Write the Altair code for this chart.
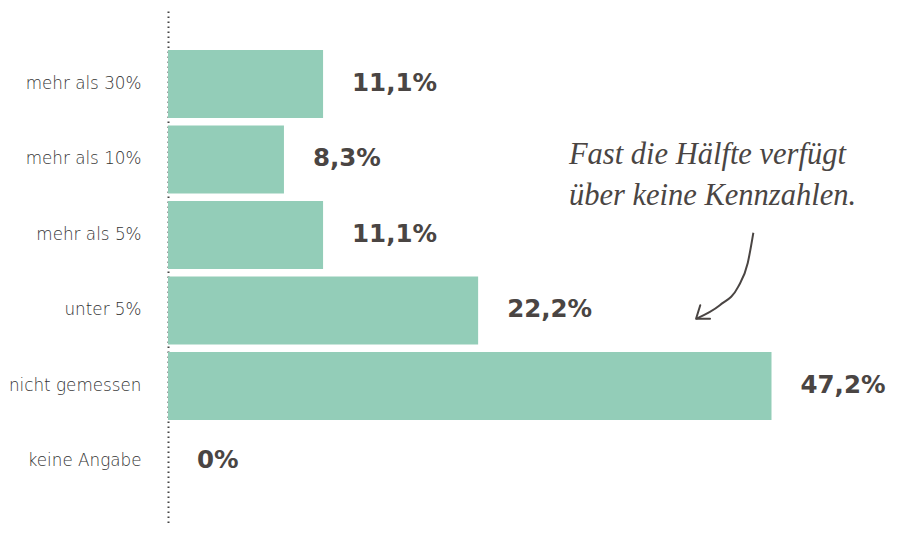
import altair as alt
import pandas as pd

# Categories (top to bottom) and values as printed
categories = ["mehr als 30%", "mehr als 10%", "mehr als 5%", "unter 5%", "nicht gemessen", "keine Angabe"]
value_labels = ["11,1%", "8,3%", "11,1%", "22,2%", "47,2%", "0%"]
# Bar lengths as drawn in the picture (largest bar is drawn shorter than its value)
bar_lengths = [11.1, 8.3, 11.1, 22.2, 43.2, 0.0]

# Annotation
note_lines = ["Fast die Hälfte verfügt", "über keine Kennzahlen."]
note_x = 28.7
note_row = "mehr als 10%"

# Arrow path in data units (x in %, y in row index units)
arrow_x = [41.9, 41.5, 40.8, 39.5, 37.8]
arrow_y = [1.97, 2.37, 2.69, 2.93, 3.11]
head_x = [38.1, 37.8, 38.8]
head_y = [2.93, 3.11, 3.11]

bar_color = "#93cdb8"
text_color = "#4a4543"

df = pd.DataFrame({"cat": categories, "len": bar_lengths, "label": value_labels})
arrow_df = pd.DataFrame({"x": arrow_x, "y": arrow_y, "o": list(range(len(arrow_x)))})
head_df = pd.DataFrame({"x": head_x, "y": head_y, "o": list(range(len(head_x)))})
note_df = pd.DataFrame({"x": [note_x], "cat": [note_row], "t": [note_lines]})

W, H = 727, 514
xscale = alt.Scale(domain=[0, 52.04], nice=False, zero=True)
yscale = alt.Scale(domain=categories, paddingInner=0.1, paddingOuter=0.454, align=0.569)

yenc = alt.Y(
    "cat:N",
    sort=categories,
    scale=yscale,
    title=None,
    axis=alt.Axis(
        ticks=False,
        labelPadding=27,
        minExtent=160,
        maxExtent=160,
        labelFont="DejaVu Sans",
        labelFontSize=16.8,
        labelFontWeight=300,
        labelColor="#333333",
        domainColor="#444444",
        domainWidth=2,
        domainDash=[1.6, 3.4],
        grid=False,
        labelLimit=200,
    ),
)

bars = alt.Chart(df).mark_bar(color=bar_color).encode(
    x=alt.X("len:Q", scale=xscale, axis=None),
    y=yenc,
)

labels = alt.Chart(df).mark_text(
    align="left", baseline="middle", dx=29, font="DejaVu Sans", fontWeight="bold",
    fontSize=24.5, color=text_color,
).encode(
    x=alt.X("len:Q", scale=xscale, axis=None),
    y=alt.Y("cat:N", sort=categories, scale=yscale, title=None),
    text="label:N",
)

note = alt.Chart(note_df).mark_text(
    align="left", baseline="alphabetic", dy=5, font="Liberation Serif",
    fontStyle="italic", fontSize=30.5, lineHeight=41, color=text_color,
).encode(
    x=alt.X("x:Q", scale=xscale, axis=None),
    y=alt.Y("cat:N", sort=categories, scale=yscale, title=None),
    text="t",
)

ry = alt.Scale(domain=[-0.967, 5.841], reverse=True, nice=False, zero=False)

arrow = alt.Chart(arrow_df).mark_line(
    color=text_color, strokeWidth=2, interpolate="monotone"
).encode(
    x=alt.X("x:Q", scale=xscale, axis=None),
    y=alt.Y("y:Q", scale=ry, axis=None),
    order="o:Q",
)

head = alt.Chart(head_df).mark_line(
    color=text_color, strokeWidth=2, strokeCap="round", strokeJoin="round"
).encode(
    x=alt.X("x:Q", scale=xscale, axis=None),
    y=alt.Y("y:Q", scale=ry, axis=None),
    order="o:Q",
)

main = alt.layer(bars, labels, note)
chart = alt.layer(main, arrow, head).resolve_scale(y="independent").properties(
    width=W, height=H, padding={"left": 0, "top": 3, "right": 0, "bottom": 0},
    background="white",
).configure_view(stroke=None)

chart.save("out.html", embed_options={"renderer": "svg", "actions": False})
